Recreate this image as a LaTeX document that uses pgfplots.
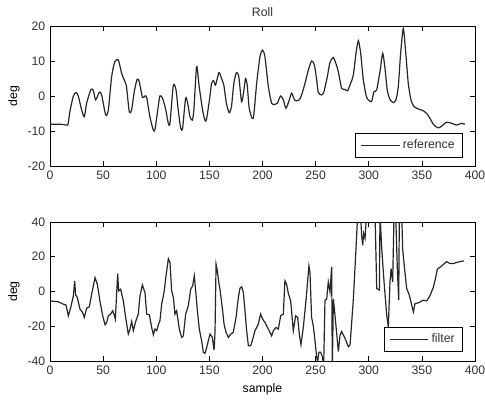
\documentclass[border=0pt]{standalone}
\usepackage{pgfplots}
\pgfplotsset{compat=1.18}
\usepackage{fontspec}
\setmainfont{Liberation Sans}
\pgfplotstableread{
x y
0 -8.1
11 -8.1
15.7 -8.3
17 -8.0
19 -4
22 0
24.5 1
26.6 0
29.8 -4
32.3 -5.9
34.5 -2
38.6 1.9
40.8 1.5
43 -1.1
46.4 1.1
48.6 0.3
52.4 -5.4
54.9 -4
58 5.5
61 9.8
64.3 10.3
67.4 6.5
70.5 4.1
72 2.7
74.6 -4.5
76.8 -4
79.3 1.2
82 4.8
84 4.1
87 -0.4
89.3 0
91 -0.4
94 -5.9
97.2 -9.7
98.7 -9.7
101 -5
103.4 0
106 -0.7
109 -4
111.3 -7.8
112.9 -7.8
116 2.9
118.5 1.9
120.7 -4
123 -9.2
124.8 -9.2
127.6 -0.7
129.5 -1.9
131.7 -5.9
133.9 -6.9
135.4 -4
138 8.4
140.4 2.7
143.6 -4
145.8 -6.9
147.3 -6.7
150.5 -0.2
152 3.6
154 4.4
155.8 3.1
159 6.7
161.4 5
163.6 3.1
166 -2.1
168.7 -4.8
170.8 -3
173 3.6
175.5 6.7
177.7 5.5
180.3 -1.6
182.5 1.7
184 5
185.6 3.1
187.5 -3.5
190.3 -6.4
191.8 -5.5
194.5 3.6
197.6 11.2
200.1 13.1
202.3 11.2
205.5 2.7
208.6 -2.1
211.7 -2.4
213.9 -2.1
217 0
219.6 -1.1
222.1 -3.5
225.2 -1.1
227.4 0.8
230.6 -1.3
234.6 -1.1
236.8 0.3
240 3.6
243.1 7.4
246.2 10
248.8 8.9
251 4.6
252.5 1
255.7 0.3
257.8 1.2
261 5.5
263.5 9.6
266.6 11
269.1 9.3
271.3 7
274.5 2.2
277.6 1.9
280.1 1.5
282.9 3.6
285.5 6
288 12.2
290.2 15.8
292.4 12.2
294.9 4.6
298 -0.4
300.5 -1.3
302.7 -1.6
304.9 1.2
307.4 1.7
310.6 7
313.1 12.2
315.3 7.9
317.4 1.7
320 -1
323.1 -1.9
325.6 -1.1
327.8 2.7
330 12.2
332.5 19.3
334.7 12.7
337.2 3.6
339.7 -1.1
342.5 -3
346.6 -3.7
351.3 -4.2
354.5 -5
357.6 -6.4
361.4 -8.3
365.5 -9.1
368.6 -8.6
373.3 -7.5
378 -7.8
382.7 -8.3
387.4 -7.8
390.5 -8.1
}\reftable
\pgfplotstableread{
x y
0 -5.4
7.8 -5.9
12.5 -7.3
15 -7.7
17.3 -14
19.5 -9.2
22 -2.5
23.2 6.1
24.2 -2.1
25.7 -3.4
28.2 -10.1
30.7 -12.1
32.3 -14.9
34.5 -9.6
37 -8.8
39.2 -1.5
40.8 3.3
42.4 8
44.5 4.2
47 -5.4
49.6 -14
51.8 -19.1
53.3 -17.8
54.9 -14
57.1 -13
59 -11.1
60.2 -13
61.5 -15.9
62.7 -1.5
63.7 10.3
64.6 0.4
66.5 1.3
69 -5.4
71.2 -14.9
73.7 -24.5
75.3 -21.6
76.9 -17.2
78.4 -22.6
80.9 -16.8
83.1 -13
84.7 -2.5
86.9 3.8
89.4 -0.6
91 -13
93.5 -13.4
95.7 -20.7
97.3 -24.9
98.8 -21.6
100.4 -22.6
102 -19.1
103.5 -16.8
105.1 -7.3
107.3 -0.6
109.2 9
111.4 18.9
112.9 16.7
114.5 0.4
116.1 -3.4
117.6 -13
119.2 -11.1
121.7 -21.6
123.9 -26.4
125.5 -25.5
127.7 -13
130.2 -8.2
132.4 1.3
134.3 3.3
135.8 9
137.4 -1.5
138.7 -11.1
140.5 -21.6
142.7 -28.3
144.3 -35
145.9 -35.6
147.5 -32.2
149 -28.3
150.6 -24.5
152.8 -26.4
154.4 -33.7
155.3 -23.5
156.3 15.7
157.5 11.9
159.1 4.2
160 1.3
162.5 -11.1
163.8 -18.8
165.7 -23.5
167.9 -26.4
170.1 -24.5
172.5 -23.5
175.1 -14.9
177.3 -3.4
178.8 1.9
180.4 2.7
182 -0.6
183.5 -11.1
185.1 -22.6
186.7 -31.2
188.9 -31.2
190.4 -28.3
192.9 -22.6
196 -18.8
198.2 -13
200.1 -15.9
202.3 -17.8
205.5 -21.6
208.6 -25.5
210.2 -22.6
212.7 -20.7
214.9 -21.6
217.1 -14
219.6 -13
221.1 6.1
222.7 4.2
224.3 -1.1
226.5 -5.4
229 -22.6
231.2 -14
233.1 -14.9
234.6 -24.5
236.2 -30.6
238.4 -20.7
240.9 -5.4
242.5 6.1
243.7 14.7
244.7 10.9
246.2 -14.9
247.8 -19.7
249.4 -28.3
251 -37.9
251.9 -40.5
253.1 -35
254.7 -35
256.6 -37.9
257.5 -45
258.8 -5
260.4 -4.4
261.9 5.5
263.5 -0.2
265.1 14.2
265.7 -45
266.7 -4.4
268.2 -13.6
271.4 -34.6
273 -25
274.5 -23
277.7 -27
280.8 -31.8
282.4 -30.8
285.5 -4.4
288 24.7
289.6 45
291.8 50
293.3 32.4
294.3 26.6
295.2 33.5
296.5 30.6
298 45
305.9 45
307.5 1.7
310 0.8
310.6 45
312.2 24.7
314.4 5.5
316.9 -13.6
318.4 -20.3
320 5.5
321 13.2
322.5 5.5
323.8 45
325.3 45
326.9 13.2
328.2 -5
328.8 45
331 45
331.9 24.7
333.5 14.2
335.7 1.7
338.2 -2.1
340.4 -7.8
342 -11.7
343.5 -7
346.7 -6.5
351.4 -5
354.5 -5.4
357.6 -2.5
360.7 2.3
362.3 6.1
364.5 12.8
368.6 14.7
373.3 17.2
376.4 16.1
379.6 16.1
382.7 16.7
385.8 17.2
389.6 17.6
}\filtertable
\pgfplotsset{
  mstyle/.style={
    scale only axis, width=318.75pt, anchor=south west,
    xmin=0, xmax=400, xtick={0,50,...,400},
    tick align=inside, major tick length=3.5pt,
    axis line style={line width=0.6pt}, every tick/.style={black, line width=0.5pt},
    font=\fontsize{9.2}{11}\selectfont,
    /pgf/number format/assume math mode=true,
    ticklabel style={font=\fontsize{9.2}{11}\selectfont, text=black!80},
    label style={font=\fontsize{9.2}{11}\selectfont, text=black!80},
    legend style={draw=black, line width=0.6pt, fill=white, font=\fontsize{9.2}{11}\selectfont, text=black!80, inner xsep=4pt, inner ysep=3pt, anchor=south east, legend cell align=left},
    legend image code/.code={\draw[#1, line width=0.6pt] (0pt,0pt) -- (29pt,0pt);},
    ylabel={deg},
    every axis y label/.style={at={(axis description cs:-0.085,0.5)}, rotate=90, anchor=center},
  }
}
\begin{document}
\begin{tikzpicture}
\useasboundingbox (0,0) rectangle (363.75pt,300pt);
\begin{axis}[mstyle, at={(37.5pt,175.5pt)}, height=105pt,
  ymin=-20, ymax=20, ytick={-20,-10,0,10,20},
  title={Roll},
  every axis title/.style={at={(axis description cs:0.5,1)}, anchor=base, yshift=7pt, font=\fontsize{9.2}{11}\selectfont, text=black!80},
  legend style={at={(axis description cs:0.972,0.059)}}]
\addplot[black!85, line width=0.9pt, smooth, tension=0.4] table[x=x,y=y] {\reftable};
\addlegendentry{reference}
\end{axis}
\begin{axis}[mstyle, at={(37.5pt,29.25pt)}, height=104.25pt,
  ymin=-40, ymax=40, ytick={-40,-20,0,20,40},
  xlabel={sample}, every axis x label/.style={at={(axis description cs:0.5,-0.223)}, anchor=base},
  legend style={at={(axis description cs:0.972,0.067)}}]
\addplot[black!85, line width=0.9pt] table[x=x,y=y] {\filtertable};
\addlegendentry{filter}
\end{axis}
\end{tikzpicture}
\end{document}
